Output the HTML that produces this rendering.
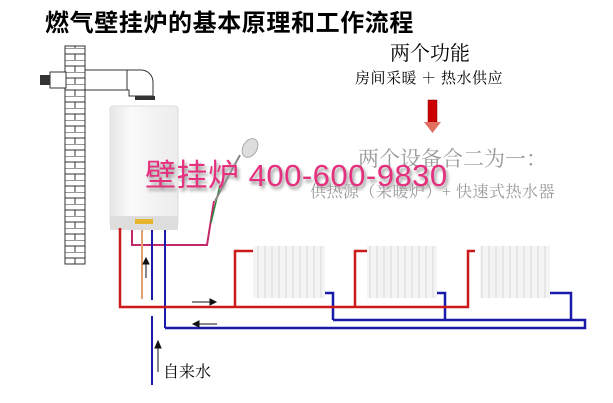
<!DOCTYPE html>
<html><head><meta charset="utf-8"><style>
body{margin:0;width:613px;height:403px;background:#fff;position:relative;overflow:hidden;font-family:"Liberation Sans","Noto Sans CJK SC",sans-serif}
.t{position:absolute;white-space:nowrap}
</style></head><body>
<svg width="613" height="403" style="position:absolute;left:0;top:0">
<defs>
<pattern id="brick" width="20" height="12" patternUnits="userSpaceOnUse">
<rect width="20" height="12" fill="#fff"/>
<path d="M0 0H20M0 6H20M5 0V6M15 6V12" stroke="#333" stroke-width="1" fill="none"/>
</pattern>
<linearGradient id="bo" x1="0" x2="1"><stop offset="0" stop-color="#e6e6e6"/><stop offset=".3" stop-color="#fafafa"/><stop offset="1" stop-color="#ececec"/></linearGradient>
<pattern id="rad" width="7" height="60" patternUnits="userSpaceOnUse"><rect width="7" height="60" fill="#f4f4f4"/><line x1="6" y1="0" x2="6" y2="60" stroke="#d8d8d8"/></pattern>
</defs>
<rect x="65" y="46" width="20" height="218" fill="url(#brick)" stroke="#333"/>
<rect x="40" y="75" width="10" height="10" fill="#333"/>
<rect x="50" y="72" width="16" height="16" fill="#fff" stroke="#333"/>
<rect x="85" y="70" width="42" height="20" fill="#fff" stroke="#333"/>
<path d="M127 70h14a12 12 0 0 1 12 12v14h-24v-6h-2z" fill="#fff" stroke="#333"/>
<rect x="135" y="96" width="20" height="4" fill="#333"/>
<rect x="110" y="106" width="68" height="120" rx="3" fill="url(#bo)" stroke="#ddd"/>
<rect x="110" y="216" width="68" height="14" fill="#ddd"/>
<rect x="135" y="219" width="18" height="5" fill="#e5b62c"/>
<path d="M132 230V245H207L214 201" stroke="#c2286a" stroke-width="2" fill="none"/>
<line x1="211" y1="223" x2="220" y2="185" stroke="#2a8a3a" stroke-width="1.5"/>
<path d="M215 201L240 155" stroke="#888" stroke-width="2"/>
<ellipse cx="250" cy="148" rx="7" ry="10" fill="#ddd" stroke="#aaa" transform="rotate(30 250 148)"/>
<line x1="142" y1="230" x2="142" y2="299" stroke="#e0a070" stroke-width="2"/>
<line x1="152" y1="230" x2="152" y2="300" stroke="#1a1aa8" stroke-width="2"/>
<line x1="165" y1="230" x2="165" y2="328" stroke="#1a1aa8" stroke-width="2"/>
<path d="M165 328H585V320H333" stroke="#1a1aa8" stroke-width="2.5" fill="none"/>
<path d="M325 293H333V320M437 293H445V320M550 293H571V320" stroke="#1a1aa8" stroke-width="2.5" fill="none"/>
<line x1="152" y1="316" x2="152" y2="385" stroke="#1a1aa8" stroke-width="2"/>
<path d="M120 228V307H468V251H475M235 307V251H253M355 307V251H367" stroke="#cc1a1a" stroke-width="2.5" fill="none"/>
<rect x="253" y="246" width="72" height="52" fill="url(#rad)"/>
<rect x="367" y="246" width="70" height="52" fill="url(#rad)"/>
<rect x="480" y="246" width="70" height="52" fill="url(#rad)"/>
<g stroke="#111" stroke-width="1" fill="#111">
<line x1="146" y1="278" x2="146" y2="262"/><path d="M143 264L146 258L149 264z"/>
<line x1="192" y1="302" x2="212" y2="302"/><path d="M210 299L216 302L210 305z"/>
<line x1="197" y1="324" x2="217" y2="324"/><path d="M199 321L193 324L199 327z"/>
<line x1="158" y1="372" x2="158" y2="346"/><path d="M155 348L158 341L161 348z"/>
</g>
<rect x="428" y="100" width="9" height="22" fill="#c00" stroke="#800" stroke-width=".5"/>
<path d="M424 122H441L432.5 133z" fill="#e07060"/>
</svg>
<div class="t" style="left:45px;top:3px;font-size:24px;letter-spacing:0.6px;font-weight:bold;color:#000">燃气壁挂炉的基本原理和工作流程</div>
<div class="t" style="left:390px;top:37px;font-size:20px;font-family:'Liberation Serif','Noto Serif CJK SC',serif">两个功能</div>
<div class="t" style="left:355px;top:67px;font-size:15px;letter-spacing:0.5px;font-family:'Liberation Serif','Noto Serif CJK SC',serif">房间采暖 ＋ 热水供应</div>
<div class="t" style="left:358px;top:143px;font-size:21px;color:#999;font-family:'Liberation Serif','Noto Serif CJK SC',serif">两个设备合二为一：</div>
<div class="t" style="left:310px;top:179px;font-size:16px;letter-spacing:0.5px;color:#999;font-family:'Liberation Serif','Noto Serif CJK SC',serif">供热源（采暖炉）+ 快速式热水器</div>
<div class="t" style="left:145px;top:150px;font-size:31px;letter-spacing:0.5px;color:#e5307e;text-shadow:2px 3px 3px #999">壁挂炉 400-600-9830</div>
<div class="t" style="left:163px;top:359px;font-size:16px;font-family:'Liberation Serif','Noto Serif CJK SC',serif">自来水</div>
</body></html>
